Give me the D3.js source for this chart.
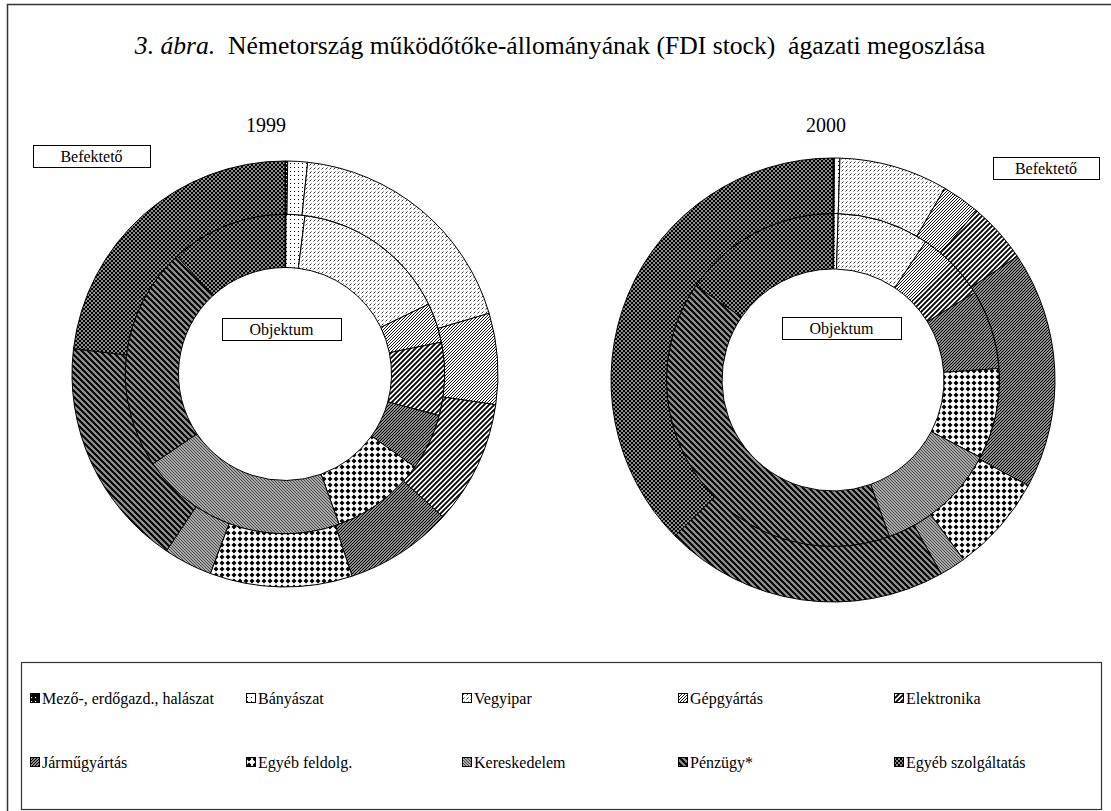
<!DOCTYPE html>
<html>
<head>
<meta charset="utf-8">
<script src="https://cdn.jsdelivr.net/npm/d3@7.9.0/dist/d3.min.js"></script>
<style>
  body { margin: 0; background: #fff; }
  svg { display: block; }
  text { white-space: pre; }
</style>
</head>
<body>
<svg id="chart" width="1111" height="811" font-family="Liberation Serif"></svg>
<script>
// ágazatok (sorrend = óramutató járása szerint, 12 órától)
const categories = [
  "Mező-, erdőgazd., halászat", "Bányászat", "Vegyipar", "Gépgyártás", "Elektronika",
  "Járműgyártás", "Egyéb feldolg.", "Kereskedelem", "Pénzügy*", "Egyéb szolgáltatás"
];

// részesedések, % (leolvasva az ábráról)
const befekteto1999 = [0.2, 1.5, 18.7, 6.9, 9.4, 8.2, 10.8, 3.7, 17.5, 23.1];
const objektum1999  = [0.1, 1.9, 15.8, 4.0, 7.4, 5.7, 9.6, 21.0, 22.7, 11.8];
const befekteto2000 = [0.1, 0.4, 7.9, 2.8, 4.4, 17.3, 7.1, 1.9, 20.7, 37.4];
const objektum2000  = [0.1, 0.4, 8.9, 3.1, 3.7, 7.7, 8.8, 11.8, 40.1, 15.4];

const years = ["1999", "2000"];
const titleLead = "3. ábra.";
const title = "  Németország működőtőke-állományának (FDI stock)  ágazati megoszlása";

const svg = d3.select("#chart");
const defs = svg.append("defs");

// mintázatok (Excel-szerű fekete-fehér kitöltések)
function pattern(id, w, h, bg, draw) {
  const p = defs.append("pattern")
    .attr("id", id)
    .attr("patternUnits", "userSpaceOnUse")
    .attr("width", w).attr("height", h);
  p.append("rect").attr("width", w).attr("height", h).attr("fill", bg);
  draw(p);
}

pattern("p0", 4, 4, "#000", (p) => {
  p.append("rect").attr("x", 1).attr("y", 1).attr("width", 1.2).attr("height", 1.2).attr("fill", "#fff");
});
pattern("p1", 4, 4, "#fff", (p) => {
  p.append("rect").attr("x", 1).attr("y", 1).attr("width", 1).attr("height", 1).attr("fill", "#000");
});
pattern("p2", 4, 4, "#fff", (p) => {
  p.append("path").attr("d", "M0.5,3.5 L2.5,1.5").attr("stroke", "#000").attr("stroke-width", 0.8);
});
pattern("p3", 3, 3, "#fff", (p) => {
  p.append("path").attr("d", "M-1,1 L1,-1 M0,3 L3,0 M2,4 L4,2").attr("stroke", "#000").attr("stroke-width", 0.9);
});
pattern("p4", 5, 5, "#fff", (p) => {
  p.append("path").attr("d", "M-1,1 L1,-1 M0,5 L5,0 M4,6 L6,4").attr("stroke", "#000").attr("stroke-width", 1.8);
});
pattern("p5", 3, 3, "#fff", (p) => {
  p.append("path").attr("d", "M-1,1 L1,-1 M0,3 L3,0 M2,4 L4,2").attr("stroke", "#000").attr("stroke-width", 1.3);
});
pattern("p6", 6, 6, "#fff", (p) => {
  p.append("path").attr("d", "M3,0.5 L5.5,3 L3,5.5 L0.5,3 Z").attr("fill", "#000");
});
pattern("p7", 3, 3, "#a8a8a8", (p) => {
  p.append("path").attr("d", "M-1,2 L1,4 M0,0 L3,3 M2,-1 L4,1").attr("stroke", "#222").attr("stroke-width", 0.7);
});
pattern("p8", 6, 6, "#949494", (p) => {
  p.append("path").attr("d", "M-1,5 L1,7 M0,0 L6,6 M5,-1 L7,1").attr("stroke", "#000").attr("stroke-width", 2);
});
pattern("p9", 4, 4, "#8a8a8a", (p) => {
  p.append("rect").attr("width", 2).attr("height", 2).attr("fill", "#000");
  p.append("rect").attr("x", 2).attr("y", 2).attr("width", 2).attr("height", 2).attr("fill", "#000");
});

const fill = d3.scaleOrdinal()
  .domain(categories)
  .range(categories.map((d, i) => `url(#p${i})`));

// külső keret
svg.append("rect")
  .attr("x", 7.5).attr("y", 4.5)
  .attr("width", 1200).attr("height", 900)
  .attr("fill", "none")
  .attr("stroke", "#333")
  .attr("stroke-width", 1.5);

// cím – a szélességet a mintához igazítjuk
const t = svg.append("text")
  .attr("x", 560).attr("y", 54)
  .attr("text-anchor", "middle")
  .attr("font-size", 24)
  .attr("fill", "#000");
t.append("tspan").attr("font-style", "italic").text(titleLead);
t.append("tspan").text(title);
const tw = t.node().getComputedTextLength();
t.attr("font-size", 24 * 851 / tw);

const pie = d3.pie().sort(null).value((d) => d);

const charts = [
  { year: years[0], cx: 285, cy: 374, r: 213, inner: objektum1999, outer: befekteto1999,
    yearX: 266, bef: [33, 145, 117], obj: [222, 318, 119] },
  { year: years[1], cx: 833, cy: 380, r: 222, inner: objektum2000, outer: befekteto2000,
    yearX: 826, bef: [993, 157, 106], obj: [782, 317, 119] }
];

function labelBox([x, y, w], text) {
  const h = 22;
  svg.append("rect")
    .attr("x", x + 0.5).attr("y", y + 0.5)
    .attr("width", w).attr("height", h)
    .attr("fill", "#fff")
    .attr("stroke", "#000")
    .attr("stroke-width", 1);
  svg.append("text")
    .attr("x", x + w / 2).attr("y", y + h / 2 + 6)
    .attr("text-anchor", "middle")
    .attr("font-size", 16)
    .text(text);
}

charts.forEach((c) => {
  const g = svg.append("g").attr("transform", `translate(${c.cx},${c.cy})`);
  const rings = [
    { data: c.inner, r0: c.r * 0.5, r1: c.r * 0.75 },
    { data: c.outer, r0: c.r * 0.75, r1: c.r }
  ];
  rings.forEach((ring) => {
    const arc = d3.arc().innerRadius(ring.r0).outerRadius(ring.r1);
    g.append("g")
      .selectAll("path")
      .data(pie(ring.data))
      .join("path")
      .attr("d", arc)
      .attr("fill", (d, i) => fill(categories[i]))
      .attr("stroke", "#000")
      .attr("stroke-width", 1);
  });

  svg.append("text")
    .attr("x", c.yearX).attr("y", 132)
    .attr("text-anchor", "middle")
    .attr("font-size", 20)
    .text(c.year);

  labelBox(c.bef, "Befektető");
  labelBox(c.obj, "Objektum");
});

// jelmagyarázat
const legendX = 21, legendY = 662, legendW = 1080, legendH = 147;
svg.append("rect")
  .attr("x", legendX + 0.5).attr("y", legendY + 0.5)
  .attr("width", legendW).attr("height", legendH)
  .attr("fill", "#fff")
  .attr("stroke", "#333")
  .attr("stroke-width", 1.2);

const col = d3.scaleBand().domain(d3.range(5)).range([legendX + 9, legendX + 9 + 5 * 216]);
const row = d3.scalePoint().domain([0, 1]).range([legendY + 42, legendY + 106]);

const items = svg.append("g")
  .selectAll("g")
  .data(categories)
  .join("g")
  .attr("transform", (d, i) => `translate(${col(i % 5)},${row(Math.floor(i / 5))})`);

items.append("rect")
  .attr("x", 0.5).attr("y", -10.5)
  .attr("width", 9).attr("height", 9)
  .attr("fill", (d) => fill(d))
  .attr("stroke", "#000")
  .attr("stroke-width", 1);

items.append("text")
  .attr("x", 12).attr("y", 0)
  .attr("font-size", 16)
  .text((d) => d);
</script>
</body>
</html>
